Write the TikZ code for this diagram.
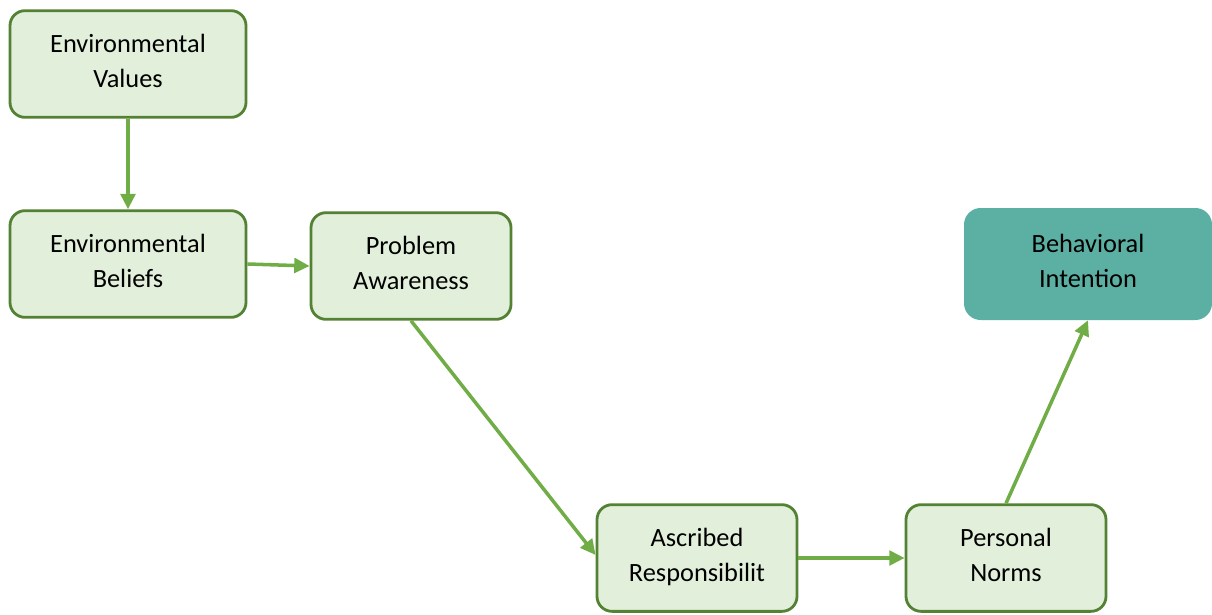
\documentclass[tikz,border=0pt]{standalone}
\usepackage{fontspec}
\setmainfont{Carlito}
\usetikzlibrary{arrows.meta}
\definecolor{boxfill}{HTML}{E2EFDA}
\definecolor{boxline}{HTML}{548235}
\definecolor{linkgreen}{HTML}{70AD47}
\definecolor{goalfill}{HTML}{5BAFA3}
\begin{document}
\begin{tikzpicture}[x=0.03cm,y=-0.03cm,
  label font/.style={font=\fontsize{22.5}{30}\selectfont,text depth=6pt},
  stage/.style={draw=boxline,fill=boxfill,line width=2.4pt,rounded corners=0.45cm,
    minimum width=6.0cm,minimum height=3.2cm,align=center,inner sep=0pt,label font},
  goal/.style={fill=goalfill,rounded corners=0.5cm,
    minimum width=7.44cm,minimum height=3.36cm,align=center,inner sep=0pt,label font},
  link/.style={draw=linkgreen,line width=3pt,
    -{Triangle[length=0.46cm,width=0.44cm]}}]
\useasboundingbox (0,0) rectangle (1212,614);
% stages of the value-belief-norm chain
\node[stage,minimum width=7.08cm] (ev) at (128,64) {Environmental\\Values};
\node[stage,minimum width=7.08cm] (eb) at (128,264) {Environmental\\Beliefs};
\node[stage] (pa) at (411,266) {Problem\\Awareness};
\node[stage] (ar) at (697,558) {Ascribed\\Responsibilit};
\node[stage] (pn) at (1006,558) {Personal\\Norms};
\node[goal] (bi) at (1088,264) {Behavioral\\Intention};
% causal links
\draw[link] (ev.south) -- (eb.north);
\draw[link] (eb.east) -- (pa.west);
\draw[link] (pa.south) -- ([yshift=0.09cm]ar.west);
\draw[link] (ar.east) -- (pn.west);
\draw[link] (pn.north) -- (bi.south);
\end{tikzpicture}
\end{document}
